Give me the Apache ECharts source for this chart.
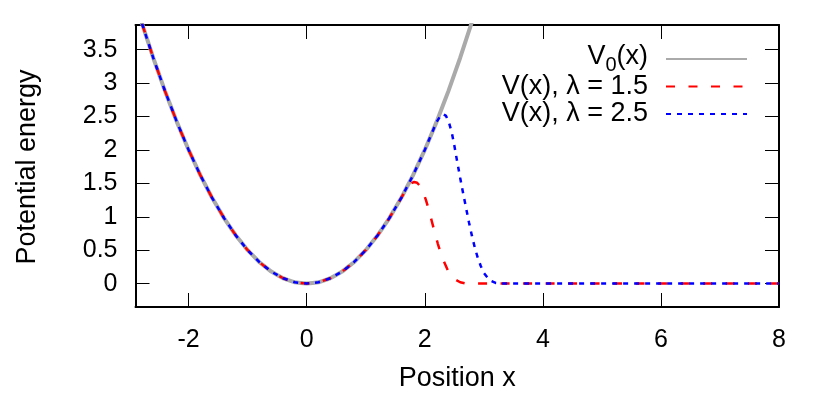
<!DOCTYPE html>
<html>
<head>
<meta charset="utf-8">
<script src="https://cdn.jsdelivr.net/npm/echarts@6/dist/echarts.min.js"></script>
<style>html,body{margin:0;padding:0;background:#fff}#c{width:830px;height:397px}</style>
</head>
<body>
<div id="c"></div>
<script>
// ---- data ----
const xTicks = [-2, 0, 2, 4, 6, 8];
const yTicks = [0, 0.5, 1, 1.5, 2, 2.5, 3, 3.5];

const v0X = [-2.9,-2.8,-2.7,-2.6,-2.5,-2.4,-2.3,-2.2,-2.1,-2.0,-1.9,-1.8,-1.7,-1.6,-1.5,-1.4,-1.3,-1.2,-1.1,-1.0,-0.9,-0.8,-0.7,-0.6,-0.5,-0.4,-0.3,-0.2,-0.1,0,
  0.1,0.2,0.3,0.4,0.5,0.6,0.7,0.8,0.9,1.0,1.1,1.2,1.3,1.4,1.5,1.6,1.7,1.8,1.9,2.0,2.1,2.2,2.3,2.4,2.5,2.6,2.7,2.8,2.9,3.0];
const v0Y = [4.21,3.92,3.65,3.38,3.13,2.88,2.65,2.42,2.21,2.00,1.81,1.62,1.45,1.28,1.13,0.98,0.85,0.72,0.61,0.50,0.41,0.32,0.25,0.18,0.13,0.08,0.05,0.02,0.01,0,
  0.01,0.02,0.05,0.08,0.13,0.18,0.25,0.32,0.41,0.50,0.61,0.72,0.85,0.98,1.13,1.28,1.45,1.62,1.81,2.00,2.21,2.42,2.65,2.88,3.13,3.38,3.65,3.92,4.21,4.50];

const v15X = [-2.9,-2.8,-2.7,-2.6,-2.5,-2.4,-2.3,-2.2,-2.1,-2.0,-1.9,-1.8,-1.7,-1.6,-1.5,-1.4,-1.3,-1.2,-1.1,-1.0,-0.9,-0.8,-0.7,-0.6,-0.5,-0.4,-0.3,-0.2,-0.1,0,
  0.1,0.2,0.3,0.4,0.5,0.6,0.7,0.8,0.9,1.0,1.1,1.2,1.3,1.4,1.5,1.6,1.7,1.76,1.82,1.87,1.92,1.97,2.02,2.07,2.12,2.17,2.22,2.27,2.32,2.4,2.5,2.6,2.7,8];
const v15Y = [4.21,3.92,3.65,3.38,3.13,2.88,2.65,2.42,2.21,2.00,1.81,1.62,1.45,1.28,1.13,0.98,0.85,0.72,0.61,0.50,0.41,0.32,0.25,0.18,0.13,0.08,0.05,0.02,0.01,0,
  0.01,0.02,0.05,0.08,0.13,0.18,0.25,0.32,0.41,0.50,0.61,0.72,0.85,0.98,1.13,1.28,1.44,1.50,1.52,1.51,1.46,1.38,1.25,1.10,0.93,0.76,0.60,0.46,0.34,0.18,0.07,0.02,0,0];

const v25X = [-2.9,-2.8,-2.7,-2.6,-2.5,-2.4,-2.3,-2.2,-2.1,-2.0,-1.9,-1.8,-1.7,-1.6,-1.5,-1.4,-1.3,-1.2,-1.1,-1.0,-0.9,-0.8,-0.7,-0.6,-0.5,-0.4,-0.3,-0.2,-0.1,0,
  0.1,0.2,0.3,0.4,0.5,0.6,0.7,0.8,0.9,1.0,1.1,1.2,1.3,1.4,1.5,1.6,1.7,1.8,1.9,2.0,2.1,2.2,2.26,2.31,2.36,2.41,2.46,2.5,2.55,2.6,2.65,2.7,2.75,2.8,2.85,2.9,2.95,3.0,3.1,3.2,3.3,8];
const v25Y = [4.21,3.92,3.65,3.38,3.13,2.88,2.65,2.42,2.21,2.00,1.81,1.62,1.45,1.28,1.13,0.98,0.85,0.72,0.61,0.50,0.41,0.32,0.25,0.18,0.13,0.08,0.05,0.02,0.01,0,
  0.01,0.02,0.05,0.08,0.13,0.18,0.25,0.32,0.41,0.50,0.61,0.72,0.85,0.98,1.13,1.28,1.45,1.62,1.81,2.00,2.21,2.42,2.50,2.54,2.51,2.41,2.25,2.07,1.82,1.58,1.35,1.13,0.91,0.71,0.53,0.38,0.26,0.16,0.05,0.01,0,0];

const seriesNames = ['V0(x)', 'V(x), λ = 1.5', 'V(x), λ = 2.5'];
// ------------------------------------

const FONT = '"Liberation Sans", Arial, Helvetica, sans-serif';
const zip = (xs, ys) => xs.map((x, i) => [x, ys[i]]);

const chart = echarts.init(document.getElementById('c'), null, {renderer: 'canvas'});

const tickStyle = {show: true, inside: true, length: 14, lineStyle: {color: '#000', width: 1}};
const lineAx = {show: true, onZero: false, lineStyle: {color: '#000', width: 2}};

chart.setOption({
  animation: false,
  backgroundColor: '#fff',
  grid: {left: 135.5, right: 51, top: 25, bottom: 89.3, containLabel: false},
  xAxis: [
    {type: 'value', min: -2.9, max: 8, position: 'bottom',
     axisLine: lineAx, splitLine: {show: false},
     axisTick: Object.assign({}, tickStyle, {customValues: xTicks}),
     axisLabel: {customValues: xTicks, fontSize: 25, fontFamily: FONT, color: '#000', margin: 21,
                 formatter: v => String(v)},
     name: 'Position x', nameLocation: 'middle', nameGap: 58,
     nameTextStyle: {fontSize: 27, fontFamily: FONT, color: '#000'}},
    {type: 'value', min: -2.9, max: 8, position: 'top',
     axisLine: lineAx, splitLine: {show: false},
     axisTick: Object.assign({}, tickStyle, {customValues: xTicks}),
     axisLabel: {show: false}}
  ],
  yAxis: [
    {type: 'value', min: -0.35, max: 3.87, position: 'left',
     axisLine: lineAx, splitLine: {show: false},
     axisTick: Object.assign({}, tickStyle, {customValues: yTicks}),
     axisLabel: {customValues: yTicks, fontSize: 25, fontFamily: FONT, color: '#000', margin: 18,
                 formatter: v => String(v)}},
    {type: 'value', min: -0.35, max: 3.87, position: 'right',
     axisLine: lineAx, splitLine: {show: false},
     axisTick: Object.assign({}, tickStyle, {customValues: yTicks}),
     axisLabel: {show: false}}
  ],
  graphic: [{
    type: 'text', x: 28, y: 167, rotation: Math.PI / 2,
    style: {text: 'Potential energy', fontSize: 27, fontFamily: FONT, fill: '#000',
            align: 'center', verticalAlign: 'middle'}
  }],
  legend: {
    orient: 'vertical', right: 77, top: 38, align: 'right', selectedMode: false,
    itemWidth: 81, itemHeight: 14, itemGap: -4.5,
    itemStyle: {opacity: 0},
    data: seriesNames,
    formatter: name => name === 'V0(x)' ? '{m|V}{sub|0}{m|(x)}' : name,
    textStyle: {fontSize: 27, fontFamily: FONT, color: '#000', lineHeight: 32, padding: [0, 13, 0, 0],
                rich: {
                  m: {fontSize: 27, fontFamily: FONT, color: '#000', lineHeight: 32, verticalAlign: 'top'},
                  sub: {fontSize: 20, fontFamily: FONT, color: '#000', padding: [12, 0, 0, 0], verticalAlign: 'top'}
                }}
  },
  series: [
    {name: seriesNames[0], type: 'line', data: zip(v0X, v0Y), symbol: 'none', showSymbol: false,
     lineStyle: {color: '#aaaaaa', width: 4, type: 'solid'}, itemStyle: {color: '#aaaaaa'}, z: 1},
    {name: seriesNames[1], type: 'line', data: zip(v15X, v15Y), symbol: 'none', showSymbol: false,
     lineStyle: {color: '#ff0000', width: 2.5, type: [9, 13.5]}, itemStyle: {color: '#ff0000'}, z: 2},
    {name: seriesNames[2], type: 'line', data: zip(v25X, v25Y), symbol: 'none', showSymbol: false,
     lineStyle: {color: '#0000ff', width: 2.5, type: [5, 6]}, itemStyle: {color: '#0000ff'}, z: 3}
  ]
});
</script>
</body>
</html>
